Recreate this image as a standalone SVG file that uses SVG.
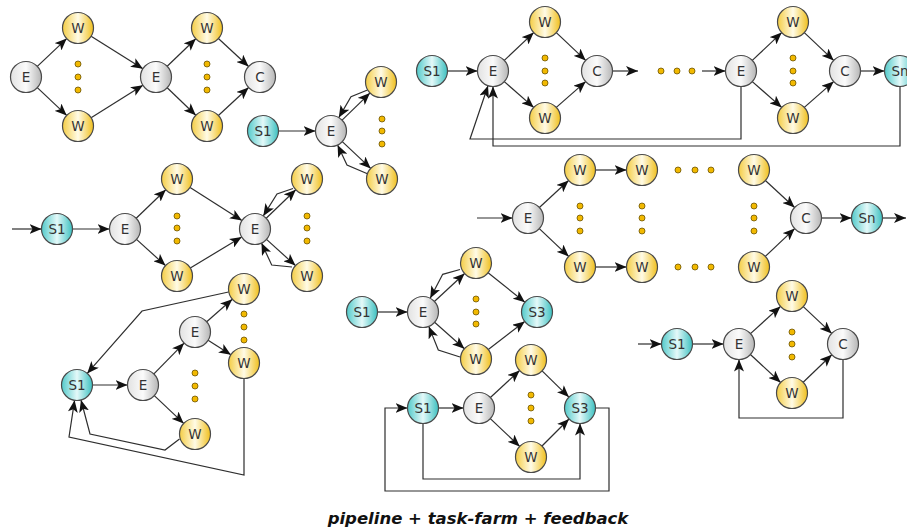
<svg xmlns="http://www.w3.org/2000/svg" width="907" height="532" viewBox="0 0 907 532">
  <defs>
    <linearGradient id="gradW" x1="0" y1="0" x2="1" y2="0">
      <stop offset="0" stop-color="#f4cd45"/>
      <stop offset="0.5" stop-color="#fffbe6"/>
      <stop offset="1" stop-color="#f0bf1c"/>
    </linearGradient>
    <linearGradient id="gradE" x1="0" y1="0" x2="1" y2="0">
      <stop offset="0" stop-color="#e2e2e2"/>
      <stop offset="0.5" stop-color="#fbfbfb"/>
      <stop offset="1" stop-color="#b6b6b6"/>
    </linearGradient>
    <linearGradient id="gradS" x1="0" y1="0" x2="1" y2="0">
      <stop offset="0" stop-color="#52caca"/>
      <stop offset="0.5" stop-color="#e4f9f9"/>
      <stop offset="1" stop-color="#3cc0c0"/>
    </linearGradient>
    <marker id="ah" viewBox="0 0 12 10" refX="12" refY="5" markerWidth="12" markerHeight="10" orient="auto" markerUnits="userSpaceOnUse">
      <path d="M0,0 L12,5 L0,10 L3,5 z" fill="#111"/>
    </marker>
    <style>
      .node circle { stroke: #4a4a4a; stroke-width: 1.2; }
      .w circle { fill: url(#gradW); }
      .e circle { fill: url(#gradE); }
      .s circle { fill: url(#gradS); }
      .node text { font-family: "DejaVu Sans", "Liberation Sans", sans-serif; font-size: 13.5px; fill: #333; text-anchor: middle; }
      .dot { fill: #f2b900; stroke: #6b5200; stroke-width: 0.8; }
      #connectors path { fill: none; stroke: #2e2e2e; stroke-width: 1.2; }
      #connectors .a { marker-end: url(#ah); }
      .title { font-family: "DejaVu Sans", "Liberation Sans", sans-serif; font-size: 16.5px; font-weight: bold; font-style: italic; fill: #111; text-anchor: middle; }
    </style>
  </defs>

  <rect width="907" height="532" fill="#fff"/>

  <g id="connectors">
    <!-- farm → farm → collector -->
    <path class="a" d="M37.3,66.4 L66.7,38.6"/>
    <path class="a" d="M37.3,87.6 L66.7,115.4"/>
    <path class="a" d="M91.1,36.2 L142.9,68.8"/>
    <path class="a" d="M91.1,117.8 L142.9,85.2"/>
    <path class="a" d="M167.2,66.3 L195.8,38.7"/>
    <path class="a" d="M167.2,87.7 L195.8,115.3"/>
    <path class="a" d="M218.4,38.5 L248.6,66.5"/>
    <path class="a" d="M218.4,115.5 L248.6,87.5"/>

    <!-- stage into farm with results returned to emitter -->
    <path class="a" d="M278.5,131 L315.5,131"/>
    <path class="a" d="M342.1,120.1 L369.9,93.1"/>
    <path class="a" d="M367.5,90 L351,96.7 L338.8,117.6"/>
    <path class="a" d="M342.3,141.6 L370.7,168.4"/>
    <path class="a" d="M368,174 L347,165 L337.6,145"/>

    <!-- pipeline of farms with feedback -->
    <path class="a" d="M447.5,71 L477.5,71"/>
    <path class="a" d="M504.3,60.4 L533.7,32.6"/>
    <path class="a" d="M504.3,81.6 L533.7,107.4"/>
    <path class="a" d="M556.3,32.6 L585.7,60.4"/>
    <path class="a" d="M556.3,107.4 L585.7,81.6"/>
    <path class="a" d="M612.5,71 L638,71"/>
    <path class="a" d="M702,71 L725.5,71"/>
    <path class="a" d="M752.3,60.4 L781.7,32.6"/>
    <path class="a" d="M752.3,81.6 L781.7,107.4"/>
    <path class="a" d="M804.3,32.6 L833.7,60.4"/>
    <path class="a" d="M804.3,107.4 L833.7,81.6"/>
    <path class="a" d="M860.5,71 L884.5,71"/>
    <path class="a" d="M741,86.5 V139 H470 L488,85.7"/>
    <path class="a" d="M900,86.5 V146 H493 V86.5"/>

    <!-- stage, farm, farm with feedback -->
    <path class="a" d="M12,229 L41.5,229"/>
    <path class="a" d="M72.5,229 L109.5,229"/>
    <path class="a" d="M136.2,218.3 L165.8,189.7"/>
    <path class="a" d="M136.5,239.4 L165.5,265.6"/>
    <path class="a" d="M190.1,187.4 L241.9,220.6"/>
    <path class="a" d="M190.3,268 L241.7,237"/>
    <path class="a" d="M266.2,218.3 L295.8,189.7"/>
    <path class="a" d="M293,188.5 L277,194 L263.3,215.9"/>
    <path class="a" d="M266.5,239.4 L295.5,265.6"/>
    <path class="a" d="M292,267 L271.7,265 L261.5,243"/>

    <!-- array of worker pipelines -->
    <path class="a" d="M477,218 L512.5,218"/>
    <path class="a" d="M539.4,207.5 L568.6,180.5"/>
    <path class="a" d="M539.3,228.6 L568.7,256.4"/>
    <path class="a" d="M595.5,170 L626.5,170"/>
    <path class="a" d="M595.5,267 L626.5,267"/>
    <path class="a" d="M765.4,180.5 L794.6,207.5"/>
    <path class="a" d="M765.3,256.4 L794.7,228.6"/>
    <path class="a" d="M821.5,218 L851.5,218"/>
    <path class="a" d="M882.5,218 L906,218"/>

    <!-- nested farm with workers feeding back to the stage -->
    <path class="a" d="M92.5,385 L127.5,385"/>
    <path class="a" d="M153.9,373.9 L184.1,343.1"/>
    <path class="a" d="M154.3,395.6 L183.7,423.4"/>
    <path class="a" d="M206.7,321.8 L232.3,299.2"/>
    <path class="a" d="M208.1,340.3 L230.9,354.7"/>
    <path class="a" d="M228.5,292 L142,311 L87.2,373.4"/>
    <path class="a" d="M179.5,439 L165,450 L90,434 L81,400"/>
    <path class="a" d="M244,378.5 V475 L69,437 L74.6,400.3"/>

    <!-- stage, farm with returns, stage -->
    <path class="a" d="M377.5,312 L407.5,312"/>
    <path class="a" d="M434.4,301.5 L464.6,273.5"/>
    <path class="a" d="M460,269.5 L442.7,274.3 L430.2,298.3"/>
    <path class="a" d="M434.6,322.3 L464.4,348.7"/>
    <path class="a" d="M460,357 L438.3,350 L428.8,326.4"/>
    <path class="a" d="M488.1,272.7 L524.9,302.3"/>
    <path class="a" d="M488.3,349.5 L524.7,321.5"/>

    <!-- stage, farm, stage with two feedback loops -->
    <path class="a" d="M438.5,408 L463.5,408"/>
    <path class="a" d="M490.4,397.5 L519.6,370.5"/>
    <path class="a" d="M490.3,418.6 L519.7,446.4"/>
    <path class="a" d="M542.1,370.9 L568.9,397.1"/>
    <path class="a" d="M542,446 L569,419"/>
    <path class="a" d="M595.5,408 H609 V491 H385 V408 H407.5"/>
    <path class="a" d="M423,423.5 V479 H580 V423.5"/>

    <!-- stage, farm with collector feedback -->
    <path class="a" d="M638,344 L661.5,344"/>
    <path class="a" d="M692.5,344 L723.5,344"/>
    <path class="a" d="M750.5,333.6 L780.5,306.4"/>
    <path class="a" d="M750.4,354.5 L780.6,382.5"/>
    <path class="a" d="M803.3,306.6 L831.7,333.4"/>
    <path class="a" d="M803.2,382.3 L831.8,354.7"/>
    <path class="a" d="M843,359.5 V418 H739 V359.5"/>
  </g>

  <!-- ellipsis dots -->
  <g id="ellipses">
    <circle class="dot" cx="78" cy="64" r="3"/><circle class="dot" cx="78" cy="77" r="3"/><circle class="dot" cx="78" cy="90" r="3"/>
    <circle class="dot" cx="207" cy="64" r="3"/><circle class="dot" cx="207" cy="77" r="3"/><circle class="dot" cx="207" cy="90" r="3"/>
    <circle class="dot" cx="382" cy="119" r="3"/><circle class="dot" cx="382" cy="131" r="3"/><circle class="dot" cx="382" cy="144" r="3"/>
    <circle class="dot" cx="545" cy="58" r="3"/><circle class="dot" cx="545" cy="71" r="3"/><circle class="dot" cx="545" cy="83" r="3"/>
    <circle class="dot" cx="661" cy="71" r="3"/><circle class="dot" cx="677" cy="71" r="3"/><circle class="dot" cx="692" cy="71" r="3"/>
    <circle class="dot" cx="793" cy="58" r="3"/><circle class="dot" cx="793" cy="71" r="3"/><circle class="dot" cx="793" cy="83" r="3"/>
    <circle class="dot" cx="177" cy="216" r="3"/><circle class="dot" cx="177" cy="228" r="3"/><circle class="dot" cx="177" cy="241" r="3"/>
    <circle class="dot" cx="307" cy="216" r="3"/><circle class="dot" cx="307" cy="228" r="3"/><circle class="dot" cx="307" cy="241" r="3"/>
    <circle class="dot" cx="580" cy="206" r="3"/><circle class="dot" cx="580" cy="218" r="3"/><circle class="dot" cx="580" cy="231" r="3"/>
    <circle class="dot" cx="642" cy="206" r="3"/><circle class="dot" cx="642" cy="218" r="3"/><circle class="dot" cx="642" cy="231" r="3"/>
    <circle class="dot" cx="754" cy="206" r="3"/><circle class="dot" cx="754" cy="218" r="3"/><circle class="dot" cx="754" cy="231" r="3"/>
    <circle class="dot" cx="678" cy="170" r="3"/><circle class="dot" cx="695" cy="170" r="3"/><circle class="dot" cx="711" cy="170" r="3"/>
    <circle class="dot" cx="678" cy="267" r="3"/><circle class="dot" cx="695" cy="267" r="3"/><circle class="dot" cx="711" cy="267" r="3"/>
    <circle class="dot" cx="244" cy="314" r="3"/><circle class="dot" cx="244" cy="327" r="3"/><circle class="dot" cx="244" cy="340" r="3"/>
    <circle class="dot" cx="195" cy="373" r="3"/><circle class="dot" cx="195" cy="386" r="3"/><circle class="dot" cx="195" cy="399" r="3"/>
    <circle class="dot" cx="476" cy="299" r="3"/><circle class="dot" cx="476" cy="312" r="3"/><circle class="dot" cx="476" cy="324" r="3"/>
    <circle class="dot" cx="531" cy="395" r="3"/><circle class="dot" cx="531" cy="408" r="3"/><circle class="dot" cx="531" cy="421" r="3"/>
    <circle class="dot" cx="792" cy="332" r="3"/><circle class="dot" cx="792" cy="344" r="3"/><circle class="dot" cx="792" cy="357" r="3"/>
  </g>

  <!-- farm → farm → collector -->
  <g id="a-e1" class="node e" transform="translate(26,77)"><circle r="15.5"/><text y="4.8">E</text></g>
  <g id="a-w1" class="node w" transform="translate(78,28)"><circle r="15.5"/><text y="4.8">W</text></g>
  <g id="a-w2" class="node w" transform="translate(78,126)"><circle r="15.5"/><text y="4.8">W</text></g>
  <g id="a-e2" class="node e" transform="translate(156,77)"><circle r="15.5"/><text y="4.8">E</text></g>
  <g id="a-w3" class="node w" transform="translate(207,28)"><circle r="15.5"/><text y="4.8">W</text></g>
  <g id="a-w4" class="node w" transform="translate(207,126)"><circle r="15.5"/><text y="4.8">W</text></g>
  <g id="a-c" class="node e" transform="translate(260,77)"><circle r="15.5"/><text y="4.8">C</text></g>

  <!-- stage into farm with returns -->
  <g id="b-s1" class="node s" transform="translate(263,131)"><circle r="15.5"/><text y="4.8">S1</text></g>
  <g id="b-e" class="node e" transform="translate(331,131)"><circle r="15.5"/><text y="4.8">E</text></g>
  <g id="b-w1" class="node w" transform="translate(381,82)"><circle r="15.5"/><text y="4.8">W</text></g>
  <g id="b-w2" class="node w" transform="translate(382,179)"><circle r="15.5"/><text y="4.8">W</text></g>

  <!-- pipeline of farms with feedback -->
  <g id="c-s1" class="node s" transform="translate(432,71)"><circle r="15.5"/><text y="4.8">S1</text></g>
  <g id="c-e1" class="node e" transform="translate(493,71)"><circle r="15.5"/><text y="4.8">E</text></g>
  <g id="c-w1" class="node w" transform="translate(545,22)"><circle r="15.5"/><text y="4.8">W</text></g>
  <g id="c-w2" class="node w" transform="translate(545,118)"><circle r="15.5"/><text y="4.8">W</text></g>
  <g id="c-c1" class="node e" transform="translate(597,71)"><circle r="15.5"/><text y="4.8">C</text></g>
  <g id="c-e2" class="node e" transform="translate(741,71)"><circle r="15.5"/><text y="4.8">E</text></g>
  <g id="c-w3" class="node w" transform="translate(793,22)"><circle r="15.5"/><text y="4.8">W</text></g>
  <g id="c-w4" class="node w" transform="translate(793,118)"><circle r="15.5"/><text y="4.8">W</text></g>
  <g id="c-c2" class="node e" transform="translate(845,71)"><circle r="15.5"/><text y="4.8">C</text></g>
  <g id="c-sn" class="node s" transform="translate(900,71)"><circle r="15.5"/><text y="4.8">Sn</text></g>

  <!-- stage, farm, farm with returns -->
  <g id="d-s1" class="node s" transform="translate(57,229)"><circle r="15.5"/><text y="4.8">S1</text></g>
  <g id="d-e1" class="node e" transform="translate(125,229)"><circle r="15.5"/><text y="4.8">E</text></g>
  <g id="d-w1" class="node w" transform="translate(177,179)"><circle r="15.5"/><text y="4.8">W</text></g>
  <g id="d-w2" class="node w" transform="translate(177,276)"><circle r="15.5"/><text y="4.8">W</text></g>
  <g id="d-e2" class="node e" transform="translate(255,229)"><circle r="15.5"/><text y="4.8">E</text></g>
  <g id="d-w3" class="node w" transform="translate(307,179)"><circle r="15.5"/><text y="4.8">W</text></g>
  <g id="d-w4" class="node w" transform="translate(307,276)"><circle r="15.5"/><text y="4.8">W</text></g>

  <!-- array of worker pipelines -->
  <g id="e-e" class="node e" transform="translate(528,218)"><circle r="15.5"/><text y="4.8">E</text></g>
  <g id="e-w1" class="node w" transform="translate(580,170)"><circle r="15.5"/><text y="4.8">W</text></g>
  <g id="e-w2" class="node w" transform="translate(642,170)"><circle r="15.5"/><text y="4.8">W</text></g>
  <g id="e-w3" class="node w" transform="translate(754,170)"><circle r="15.5"/><text y="4.8">W</text></g>
  <g id="e-w4" class="node w" transform="translate(580,267)"><circle r="15.5"/><text y="4.8">W</text></g>
  <g id="e-w5" class="node w" transform="translate(642,267)"><circle r="15.5"/><text y="4.8">W</text></g>
  <g id="e-w6" class="node w" transform="translate(754,267)"><circle r="15.5"/><text y="4.8">W</text></g>
  <g id="e-c" class="node e" transform="translate(806,218)"><circle r="15.5"/><text y="4.8">C</text></g>
  <g id="e-sn" class="node s" transform="translate(867,218)"><circle r="15.5"/><text y="4.8">Sn</text></g>

  <!-- nested farm feeding back -->
  <g id="f-s1" class="node s" transform="translate(77,385)"><circle r="15.5"/><text y="4.8">S1</text></g>
  <g id="f-e1" class="node e" transform="translate(143,385)"><circle r="15.5"/><text y="4.8">E</text></g>
  <g id="f-e2" class="node e" transform="translate(195,332)"><circle r="15.5"/><text y="4.8">E</text></g>
  <g id="f-w1" class="node w" transform="translate(244,289)"><circle r="15.5"/><text y="4.8">W</text></g>
  <g id="f-w2" class="node w" transform="translate(244,363)"><circle r="15.5"/><text y="4.8">W</text></g>
  <g id="f-w3" class="node w" transform="translate(195,434)"><circle r="15.5"/><text y="4.8">W</text></g>

  <!-- stage, farm with returns, stage -->
  <g id="g-s1" class="node s" transform="translate(362,312)"><circle r="15.5"/><text y="4.8">S1</text></g>
  <g id="g-e" class="node e" transform="translate(423,312)"><circle r="15.5"/><text y="4.8">E</text></g>
  <g id="g-w1" class="node w" transform="translate(476,263)"><circle r="15.5"/><text y="4.8">W</text></g>
  <g id="g-w2" class="node w" transform="translate(476,359)"><circle r="15.5"/><text y="4.8">W</text></g>
  <g id="g-s3" class="node s" transform="translate(537,312)"><circle r="15.5"/><text y="4.8">S3</text></g>

  <!-- stage, farm, stage with loops -->
  <g id="h-s1" class="node s" transform="translate(423,408)"><circle r="15.5"/><text y="4.8">S1</text></g>
  <g id="h-e" class="node e" transform="translate(479,408)"><circle r="15.5"/><text y="4.8">E</text></g>
  <g id="h-w1" class="node w" transform="translate(531,360)"><circle r="15.5"/><text y="4.8">W</text></g>
  <g id="h-w2" class="node w" transform="translate(531,457)"><circle r="15.5"/><text y="4.8">W</text></g>
  <g id="h-s3" class="node s" transform="translate(580,408)"><circle r="15.5"/><text y="4.8">S3</text></g>

  <!-- stage, farm with collector feedback -->
  <g id="i-s1" class="node s" transform="translate(677,344)"><circle r="15.5"/><text y="4.8">S1</text></g>
  <g id="i-e" class="node e" transform="translate(739,344)"><circle r="15.5"/><text y="4.8">E</text></g>
  <g id="i-w1" class="node w" transform="translate(792,296)"><circle r="15.5"/><text y="4.8">W</text></g>
  <g id="i-w2" class="node w" transform="translate(792,393)"><circle r="15.5"/><text y="4.8">W</text></g>
  <g id="i-c" class="node e" transform="translate(843,344)"><circle r="15.5"/><text y="4.8">C</text></g>

  <text class="title" x="478" y="524">pipeline + task-farm + feedback</text>
</svg>
